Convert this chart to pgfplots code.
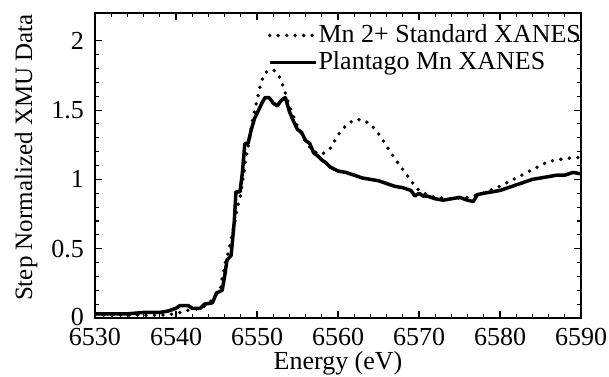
\documentclass[border=0pt]{standalone}
\usepackage{fontspec}
\setmainfont{Liberation Serif}
\usepackage{pgfplots}
\pgfplotsset{compat=1.18}
\begin{document}
\begin{tikzpicture}
\fontsize{25}{28}\selectfont
\begin{axis}[
  name=ax,
  scale only axis,
  width=486pt, height=305pt,
  xmin=6530, xmax=6590, ymin=0, ymax=2.2,
  xtick={6530,6540,...,6590},
  ytick={0,0.5,1,1.5,2},
  yticklabels={\raisebox{3pt}{0},0.5,1,1.5,2},
  minor x tick num=4,
  minor y tick num=4,
  tick align=inside,
  major tick length=7pt, minor tick length=4pt,
  every tick/.style={black, line width=1.1pt},
  axis line style={line width=1.4pt},
  /pgf/number format/assume math mode=true,
  /pgf/number format/1000 sep={},
  tick label style={font=\fontsize{26}{28}\selectfont},
  xticklabel style={anchor=base, yshift=-27pt, inner sep=0pt},
  yticklabel style={anchor=east, inner sep=0pt, xshift=-11pt},
  xlabel={Energy (eV)},
  ylabel={Step Normalized XMU Data},
  every axis x label/.style={at={(axis description cs:0.5,0)}, anchor=base, yshift=-51pt,
    font=\fontsize{26}{28}\selectfont},
  every axis y label/.style={at={(axis description cs:-0.1296,0.526)}, rotate=90, anchor=base,
    font=\fontsize{25}{28}\selectfont},
  legend style={at={(0.355,0.966)}, anchor=north west, draw=none, fill=none,
    font=\fontsize{26}{27}\selectfont, inner sep=0pt, row sep=3pt,
    nodes={inner sep=1pt},
    /tikz/every even column/.append style={column sep=0pt},
    legend cell align=left},
  legend image code/.code={\draw[#1] (0pt,0pt) -- (46pt,0pt);},
]
\addplot[black, line width=3.8pt, dash pattern=on 0pt off 8.5pt, line cap=round] coordinates {
(6530,0.02) (6535,0.02) (6538,0.02) (6540,0.03) (6541,0.05) (6542,0.06)
(6543,0.07) (6544,0.10) (6545,0.17) (6545.5,0.22) (6546,0.38) (6546.5,0.48)
(6547,0.62) (6547.5,0.77) (6548,0.90) (6548.5,1.10) (6549,1.27) (6549.5,1.44)
(6550,1.57) (6550.5,1.70) (6551,1.77) (6552,1.79) (6552.5,1.77) (6553,1.71)
(6553.5,1.62) (6554,1.53) (6555,1.38) (6556,1.27) (6557,1.20) (6558,1.18)
(6559,1.22) (6560,1.32) (6561,1.39) (6562,1.43) (6563,1.43) (6564,1.40)
(6565,1.33) (6566,1.24) (6567,1.15) (6568,1.07) (6569,0.99) (6570,0.92)
(6571,0.89) (6572,0.87) (6574,0.86) (6576,0.87) (6578,0.90) (6580,0.95)
(6582,1.01) (6584,1.07) (6585,1.10) (6586,1.13) (6588,1.15) (6590,1.16)
};
\addlegendentry{Mn 2+ Standard XANES}
\addplot[black, line width=3.5pt, line join=round] coordinates {
(6530,0.03) (6532,0.03) (6534,0.03) (6536,0.04) (6538,0.04) (6539,0.05)
(6540,0.07) (6540.5,0.09) (6541.5,0.09) (6542,0.07) (6543,0.07) (6543.5,0.10)
(6544.5,0.11) (6545,0.18) (6545.7,0.20) (6546,0.30) (6546.3,0.42) (6546.8,0.45)
(6547.2,0.70) (6547.4,0.91) (6547.9,0.91) (6548.2,1.05) (6548.5,1.26) (6548.9,1.26)
(6549.3,1.36) (6549.7,1.44) (6550.2,1.50) (6550.6,1.55) (6551,1.59) (6551.5,1.59)
(6552,1.55) (6552.5,1.53) (6553,1.57) (6553.5,1.59) (6554,1.49) (6554.5,1.42)
(6555,1.36) (6555.5,1.34) (6556,1.28) (6556.5,1.26) (6557,1.19) (6557.5,1.17)
(6558,1.14) (6558.5,1.12) (6559,1.09) (6560,1.06) (6561,1.05) (6562,1.03)
(6563,1.01) (6564,1.00) (6565,0.99) (6566,0.97) (6567,0.95) (6568,0.94)
(6569,0.92) (6569.5,0.88) (6570,0.90) (6570.5,0.88) (6571,0.88) (6572,0.86)
(6573,0.85) (6574,0.86) (6575,0.87) (6576,0.85) (6576.7,0.84) (6577.2,0.89)
(6578,0.90) (6579,0.91) (6580,0.92) (6581,0.94) (6582,0.96) (6583,0.98)
(6584,1.00) (6585,1.01) (6586,1.02) (6587,1.03) (6588,1.03) (6589,1.05)
(6590,1.04)
};
\addlegendentry{Plantago Mn XANES}
\end{axis}
\pgfresetboundingbox
\path[use as bounding box] ([shift={(-95pt,-58pt)}]ax.south west) rectangle ++(609pt,376pt);
\end{tikzpicture}
\end{document}
